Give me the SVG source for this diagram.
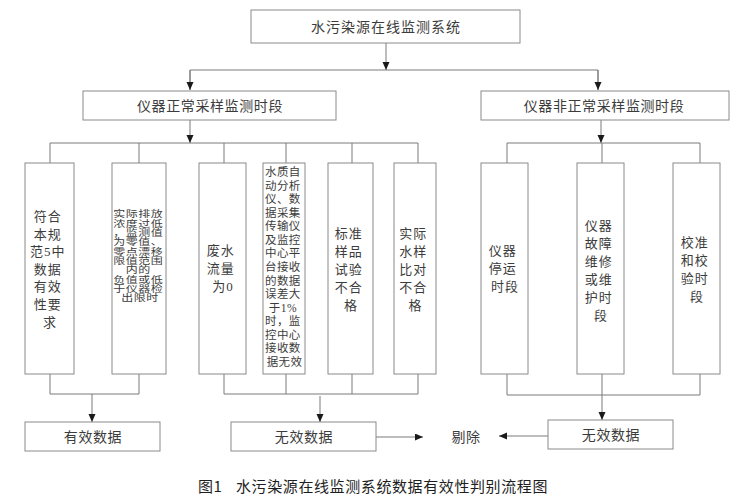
<svg xmlns="http://www.w3.org/2000/svg" width="743" height="499" viewBox="0 0 743 499">
<style>
.box{fill:#fff;stroke:#8a8a8a;stroke-width:1}
.ln{fill:none;stroke:#7a7a7a;stroke-width:1}
.t{font-family:"Liberation Serif","Noto Sans CJK SC",serif;fill:#3c3c3c;text-anchor:middle;dominant-baseline:central}
.t14{font-size:14px;letter-spacing:0.6px}
.t13{font-size:13px;letter-spacing:1px}
.t9{font-size:9px;letter-spacing:0.4px}
.t12{font-size:11.5px;letter-spacing:0.4px}
.cap{font-family:"Noto Sans CJK SC","Liberation Sans",sans-serif;font-size:15px;fill:#1e1e1e;dominant-baseline:central;letter-spacing:0.6px}
</style>
<defs>
<marker id="ah" markerWidth="9" markerHeight="8" refX="8" refY="3.5" orient="auto" markerUnits="userSpaceOnUse">
<path d="M0,0 L8,3.5 L0,7 Z" fill="#1a1a1a"/>
</marker>
</defs>
<rect width="743" height="499" fill="#fff"/>

<g id="connectors">
<line class="ln" x1="386" y1="43" x2="386" y2="70" marker-end="url(#ah)"/>
<polyline class="ln" points="190,90 190,70 598,70 598,90"/>
<line class="ln" x1="190" y1="70" x2="190" y2="90" marker-end="url(#ah)"/>
<line class="ln" x1="598" y1="70" x2="598" y2="90" marker-end="url(#ah)"/>

<line class="ln" x1="190" y1="120" x2="190" y2="143" marker-end="url(#ah)"/>
<line class="ln" x1="50" y1="143" x2="418" y2="143"/>
<line class="ln" x1="50" y1="143" x2="50" y2="163"/>
<line class="ln" x1="139" y1="143" x2="139" y2="163"/>
<line class="ln" x1="224" y1="143" x2="224" y2="163"/>
<line class="ln" x1="286" y1="143" x2="286" y2="163"/>
<line class="ln" x1="352" y1="143" x2="352" y2="163"/>
<line class="ln" x1="418" y1="143" x2="418" y2="163"/>

<line class="ln" x1="601" y1="120" x2="601" y2="143" marker-end="url(#ah)"/>
<line class="ln" x1="507" y1="143" x2="700" y2="143"/>
<line class="ln" x1="507" y1="143" x2="507" y2="163"/>
<line class="ln" x1="602" y1="143" x2="602" y2="163"/>
<line class="ln" x1="700" y1="143" x2="700" y2="163"/>

<polyline class="ln" points="50,374 50,394 139,394 139,374"/>
<line class="ln" x1="92" y1="394" x2="92" y2="422" marker-end="url(#ah)"/>

<polyline class="ln" points="224,374 224,394 418,394 418,374"/>
<line class="ln" x1="286" y1="374" x2="286" y2="394"/>
<line class="ln" x1="352" y1="374" x2="352" y2="394"/>
<line class="ln" x1="320" y1="396" x2="320" y2="422" marker-end="url(#ah)"/>

<polyline class="ln" points="507,374 507,395 700,395 700,374"/>
<line class="ln" x1="602" y1="374" x2="602" y2="420" marker-end="url(#ah)"/>

<line class="ln" x1="376" y1="437" x2="423" y2="437" marker-end="url(#ah)"/>
<line class="ln" x1="548" y1="436" x2="499" y2="436" marker-end="url(#ah)"/>
</g>

<g id="root">
<rect class="box" x="251" y="10" width="269" height="33"/>
<text class="t t14" x="386" y="27" style="letter-spacing:1px">水污染源在线监测系统</text>
</g>

<g id="normal">
<rect class="box" x="83" y="91" width="253" height="29"/>
<text class="t t14" x="210" y="106">仪器正常采样监测时段</text>
</g>

<g id="abnormal">
<rect class="box" x="481" y="91" width="248" height="29"/>
<text class="t t14" x="604" y="106">仪器非正常采样监测时段</text>
</g>

<g id="n1">
<rect class="box" x="25" y="163" width="49" height="211"/>
<text class="t t13">
<tspan x="50" y="216">符合</tspan>
<tspan x="50" y="233.6">本规</tspan>
<tspan x="50" y="251.2">范5中</tspan>
<tspan x="50" y="268.8">数据</tspan>
<tspan x="50" y="286.4">有效</tspan>
<tspan x="50" y="304">性要</tspan>
<tspan x="50" y="321.6">求</tspan>
</text>
</g>

<g id="n2">
<rect class="box" x="112" y="163" width="54" height="211"/>
<g transform="translate(140,0) scale(1.33,1)">
<text class="t t9">
<tspan x="0" y="214">实际排放</tspan>
<tspan x="0" y="223.3">浓度过低</tspan>
<tspan x="0" y="232.7">，监测值</tspan>
<tspan x="0" y="242">为零值、</tspan>
<tspan x="0" y="251.3">零点漂移</tspan>
<tspan x="0" y="260.7">限值范围</tspan>
<tspan x="0" y="270">内的</tspan>
<tspan x="0" y="279.3">负值或低</tspan>
<tspan x="0" y="288.7">于仪器检</tspan>
<tspan x="0" y="298">出限时</tspan>
</text>
</g>
</g>

<g id="n3">
<rect class="box" x="199" y="163" width="47" height="211"/>
<text class="t t13">
<tspan x="223" y="250">废水</tspan>
<tspan x="223" y="268">流量</tspan>
<tspan x="223" y="286">为0</tspan>
</text>
</g>

<g id="n4">
<rect class="box" x="263" y="163" width="42" height="211"/>
<text class="t t12">
<tspan x="284.5" y="172">水质自</tspan>
<tspan x="284.5" y="185.6">动分析</tspan>
<tspan x="284.5" y="199.1">仪、数</tspan>
<tspan x="284.5" y="212.7">据采集</tspan>
<tspan x="284.5" y="226.3">传输仪</tspan>
<tspan x="284.5" y="239.9">及监控</tspan>
<tspan x="284.5" y="253.4">中心平</tspan>
<tspan x="284.5" y="267">台接收</tspan>
<tspan x="284.5" y="280.6">的数据</tspan>
<tspan x="284.5" y="294.1">误差大</tspan>
<tspan x="284.5" y="307.7">于1%</tspan>
<tspan x="284.5" y="321.3">时，监</tspan>
<tspan x="284.5" y="334.9">控中心</tspan>
<tspan x="284.5" y="348.4">接收数</tspan>
<tspan x="284.5" y="362">据无效</tspan>
</text>
</g>

<g id="n5">
<rect class="box" x="328" y="163" width="45" height="211"/>
<text class="t t13">
<tspan x="351" y="233">标准</tspan>
<tspan x="351" y="251">样品</tspan>
<tspan x="351" y="269">试验</tspan>
<tspan x="351" y="287">不合</tspan>
<tspan x="351" y="305">格</tspan>
</text>
</g>

<g id="n6">
<rect class="box" x="394" y="163" width="42" height="211"/>
<text class="t t13">
<tspan x="415.5" y="233">实际</tspan>
<tspan x="415.5" y="251">水样</tspan>
<tspan x="415.5" y="269">比对</tspan>
<tspan x="415.5" y="287">不合</tspan>
<tspan x="415.5" y="305">格</tspan>
</text>
</g>

<g id="n7">
<rect class="box" x="481" y="163" width="47" height="211"/>
<text class="t t13">
<tspan x="505" y="250">仪器</tspan>
<tspan x="505" y="268">停运</tspan>
<tspan x="505" y="286">时段</tspan>
</text>
</g>

<g id="n8">
<rect class="box" x="577" y="163" width="47" height="211"/>
<text class="t t13">
<tspan x="601" y="225">仪器</tspan>
<tspan x="601" y="243">故障</tspan>
<tspan x="601" y="261">维修</tspan>
<tspan x="601" y="279">或维</tspan>
<tspan x="601" y="297">护时</tspan>
<tspan x="601" y="315">段</tspan>
</text>
</g>

<g id="n9">
<rect class="box" x="673" y="163" width="47" height="211"/>
<text class="t t13">
<tspan x="697" y="242">校准</tspan>
<tspan x="697" y="260">和校</tspan>
<tspan x="697" y="278">验时</tspan>
<tspan x="697" y="296">段</tspan>
</text>
</g>

<g id="valid">
<rect class="box" x="25" y="422" width="135" height="29"/>
<text class="t t14" x="93" y="437">有效数据</text>
</g>

<g id="invalid1">
<rect class="box" x="231" y="422" width="145" height="29"/>
<text class="t t14" x="304" y="437">无效数据</text>
</g>

<g id="remove">
<text class="t t14" x="466" y="437">剔除</text>
</g>

<g id="invalid2">
<rect class="box" x="548" y="420" width="125" height="29"/>
<text class="t t14" x="611" y="435">无效数据</text>
</g>

<g id="caption">
<text class="cap" x="198" y="485">图1</text>
<text class="cap" x="236" y="485">水污染源在线监测系统数据有效性判别流程图</text>
</g>
</svg>
